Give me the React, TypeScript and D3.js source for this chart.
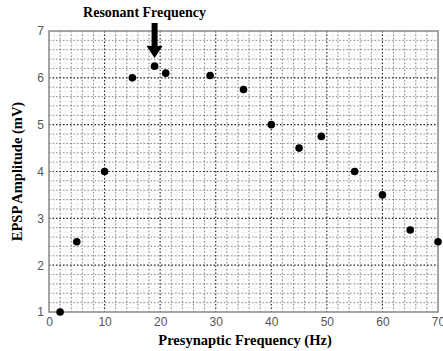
import { useEffect, useRef } from "react";
import * as d3 from "d3";

// presynaptic frequency (Hz) vs EPSP amplitude (mV)
const freqs = [2, 5, 10, 15, 19, 21, 29, 35, 40, 45, 49, 55, 60, 65, 70];
const amps = [1, 2.5, 4, 6, 6.25, 6.1, 6.05, 5.75, 5, 4.5, 4.75, 4, 3.5, 2.75, 2.5];
const xTicks = [0, 10, 20, 30, 40, 50, 60, 70];
const yTicks = [1, 2, 3, 4, 5, 6, 7];
const resonantFreq = 19;

const App = () => {
  const ref = useRef<SVGSVGElement>(null);

  useEffect(() => {
    const width = 443;
    const height = 351;
    const marginTop = 31;
    const marginRight = 5;
    const marginBottom = 39;
    const marginLeft = 49;

    const x = d3.scaleLinear().domain([0, 70]).range([marginLeft, width - marginRight]);
    const y = d3.scaleLinear().domain([1, 7]).range([height - marginBottom, marginTop]);

    const svg = d3.select(ref.current);
    svg.selectAll("*").remove();

    // light fine grid
    const fine = svg.append("g").attr("stroke", "#e6e6e6").attr("stroke-width", 0.5);
    fine.selectAll("line.fx")
      .data(d3.range(1, 70, 1))
      .join("line")
      .attr("x1", d => x(d)).attr("x2", d => x(d))
      .attr("y1", y(7)).attr("y2", y(1));
    fine.selectAll("line.fy")
      .data(d3.range(1.1, 7, 0.1))
      .join("line")
      .attr("y1", d => y(d)).attr("y2", d => y(d))
      .attr("x1", x(0)).attr("x2", x(70));

    // dotted grid
    const grid = svg.append("g").attr("stroke", "#111").attr("stroke-dasharray", "1.5,2");
    grid.selectAll("line.vx")
      .data(d3.range(2, 70, 2))
      .join("line")
      .attr("x1", d => x(d)).attr("x2", d => x(d))
      .attr("y1", y(7)).attr("y2", y(1))
      .attr("stroke-width", d => (d % 10 === 0 ? 1.1 : 0.8))
      .attr("stroke-opacity", d => (d % 10 === 0 ? 0.9 : 0.6));
    grid.selectAll("line.hy")
      .data(d3.range(1.2, 7, 0.2))
      .join("line")
      .attr("y1", d => y(d)).attr("y2", d => y(d))
      .attr("x1", x(0)).attr("x2", x(70))
      .attr("stroke-width", d => (Math.abs(d - Math.round(d)) < 0.01 ? 1.1 : 0.8))
      .attr("stroke-opacity", d => (Math.abs(d - Math.round(d)) < 0.01 ? 0.9 : 0.55));

    // frame
    svg.append("rect")
      .attr("x", x(0)).attr("y", y(7))
      .attr("width", x(70) - x(0)).attr("height", y(1) - y(7))
      .attr("fill", "none").attr("stroke", "#888").attr("stroke-width", 1.5);

    // axes
    svg.append("g")
      .attr("transform", `translate(0,${y(1)})`)
      .call(d3.axisBottom(x).tickValues(xTicks).tickSize(0).tickPadding(5).tickFormat(d3.format("d")))
      .call(g => g.select(".domain").remove())
      .call(g => g.selectAll("text")
        .attr("font-family", "Liberation Sans, Arial, sans-serif")
        .attr("font-size", 12).attr("fill", "#555"));

    svg.append("g")
      .attr("transform", `translate(${x(0)},0)`)
      .call(d3.axisLeft(y).tickValues(yTicks).tickSize(0).tickPadding(5).tickFormat(d3.format("d")))
      .call(g => g.select(".domain").remove())
      .call(g => g.selectAll("text")
        .attr("font-family", "Liberation Sans, Arial, sans-serif")
        .attr("font-size", 12).attr("fill", "#555"));

    // axis titles
    svg.append("text")
      .attr("x", 245).attr("y", 345)
      .attr("text-anchor", "middle")
      .attr("font-family", "Liberation Serif, Times New Roman, serif")
      .attr("font-weight", "bold").attr("font-size", 14.5)
      .text("Presynaptic Frequency (Hz)");

    svg.append("text")
      .attr("transform", `translate(22,${(y(1) + y(7)) / 2}) rotate(-90)`)
      .attr("text-anchor", "middle")
      .attr("font-family", "Liberation Serif, Times New Roman, serif")
      .attr("font-weight", "bold").attr("font-size", 14.5)
      .text("EPSP Amplitude (mV)");

    // points
    svg.append("g")
      .selectAll("circle")
      .data(freqs.map((f, i) => [f, amps[i]]))
      .join("circle")
      .attr("cx", d => x(d[0])).attr("cy", d => y(d[1]))
      .attr("r", 3.8).attr("fill", "#000");

    // resonant annotation
    const ax = x(resonantFreq);
    svg.append("text")
      .attr("x", ax - 10).attr("y", 17)
      .attr("text-anchor", "middle")
      .attr("font-family", "Liberation Serif, Times New Roman, serif")
      .attr("font-weight", "bold").attr("font-size", 14)
      .text("Resonant Frequency");

    svg.append("path")
      .attr("d", `M${ax - 3},23 L${ax + 3},23 L${ax + 3},46 L${ax + 8},46 L${ax},58 L${ax - 8},46 L${ax - 3},46 Z`)
      .attr("fill", "#000");
  }, []);

  return (
    <svg
      ref={ref}
      width={443}
      height={351}
      style={{ position: "absolute", left: 0, top: 0, background: "#fff" }}
    />
  );
};

export default App;
